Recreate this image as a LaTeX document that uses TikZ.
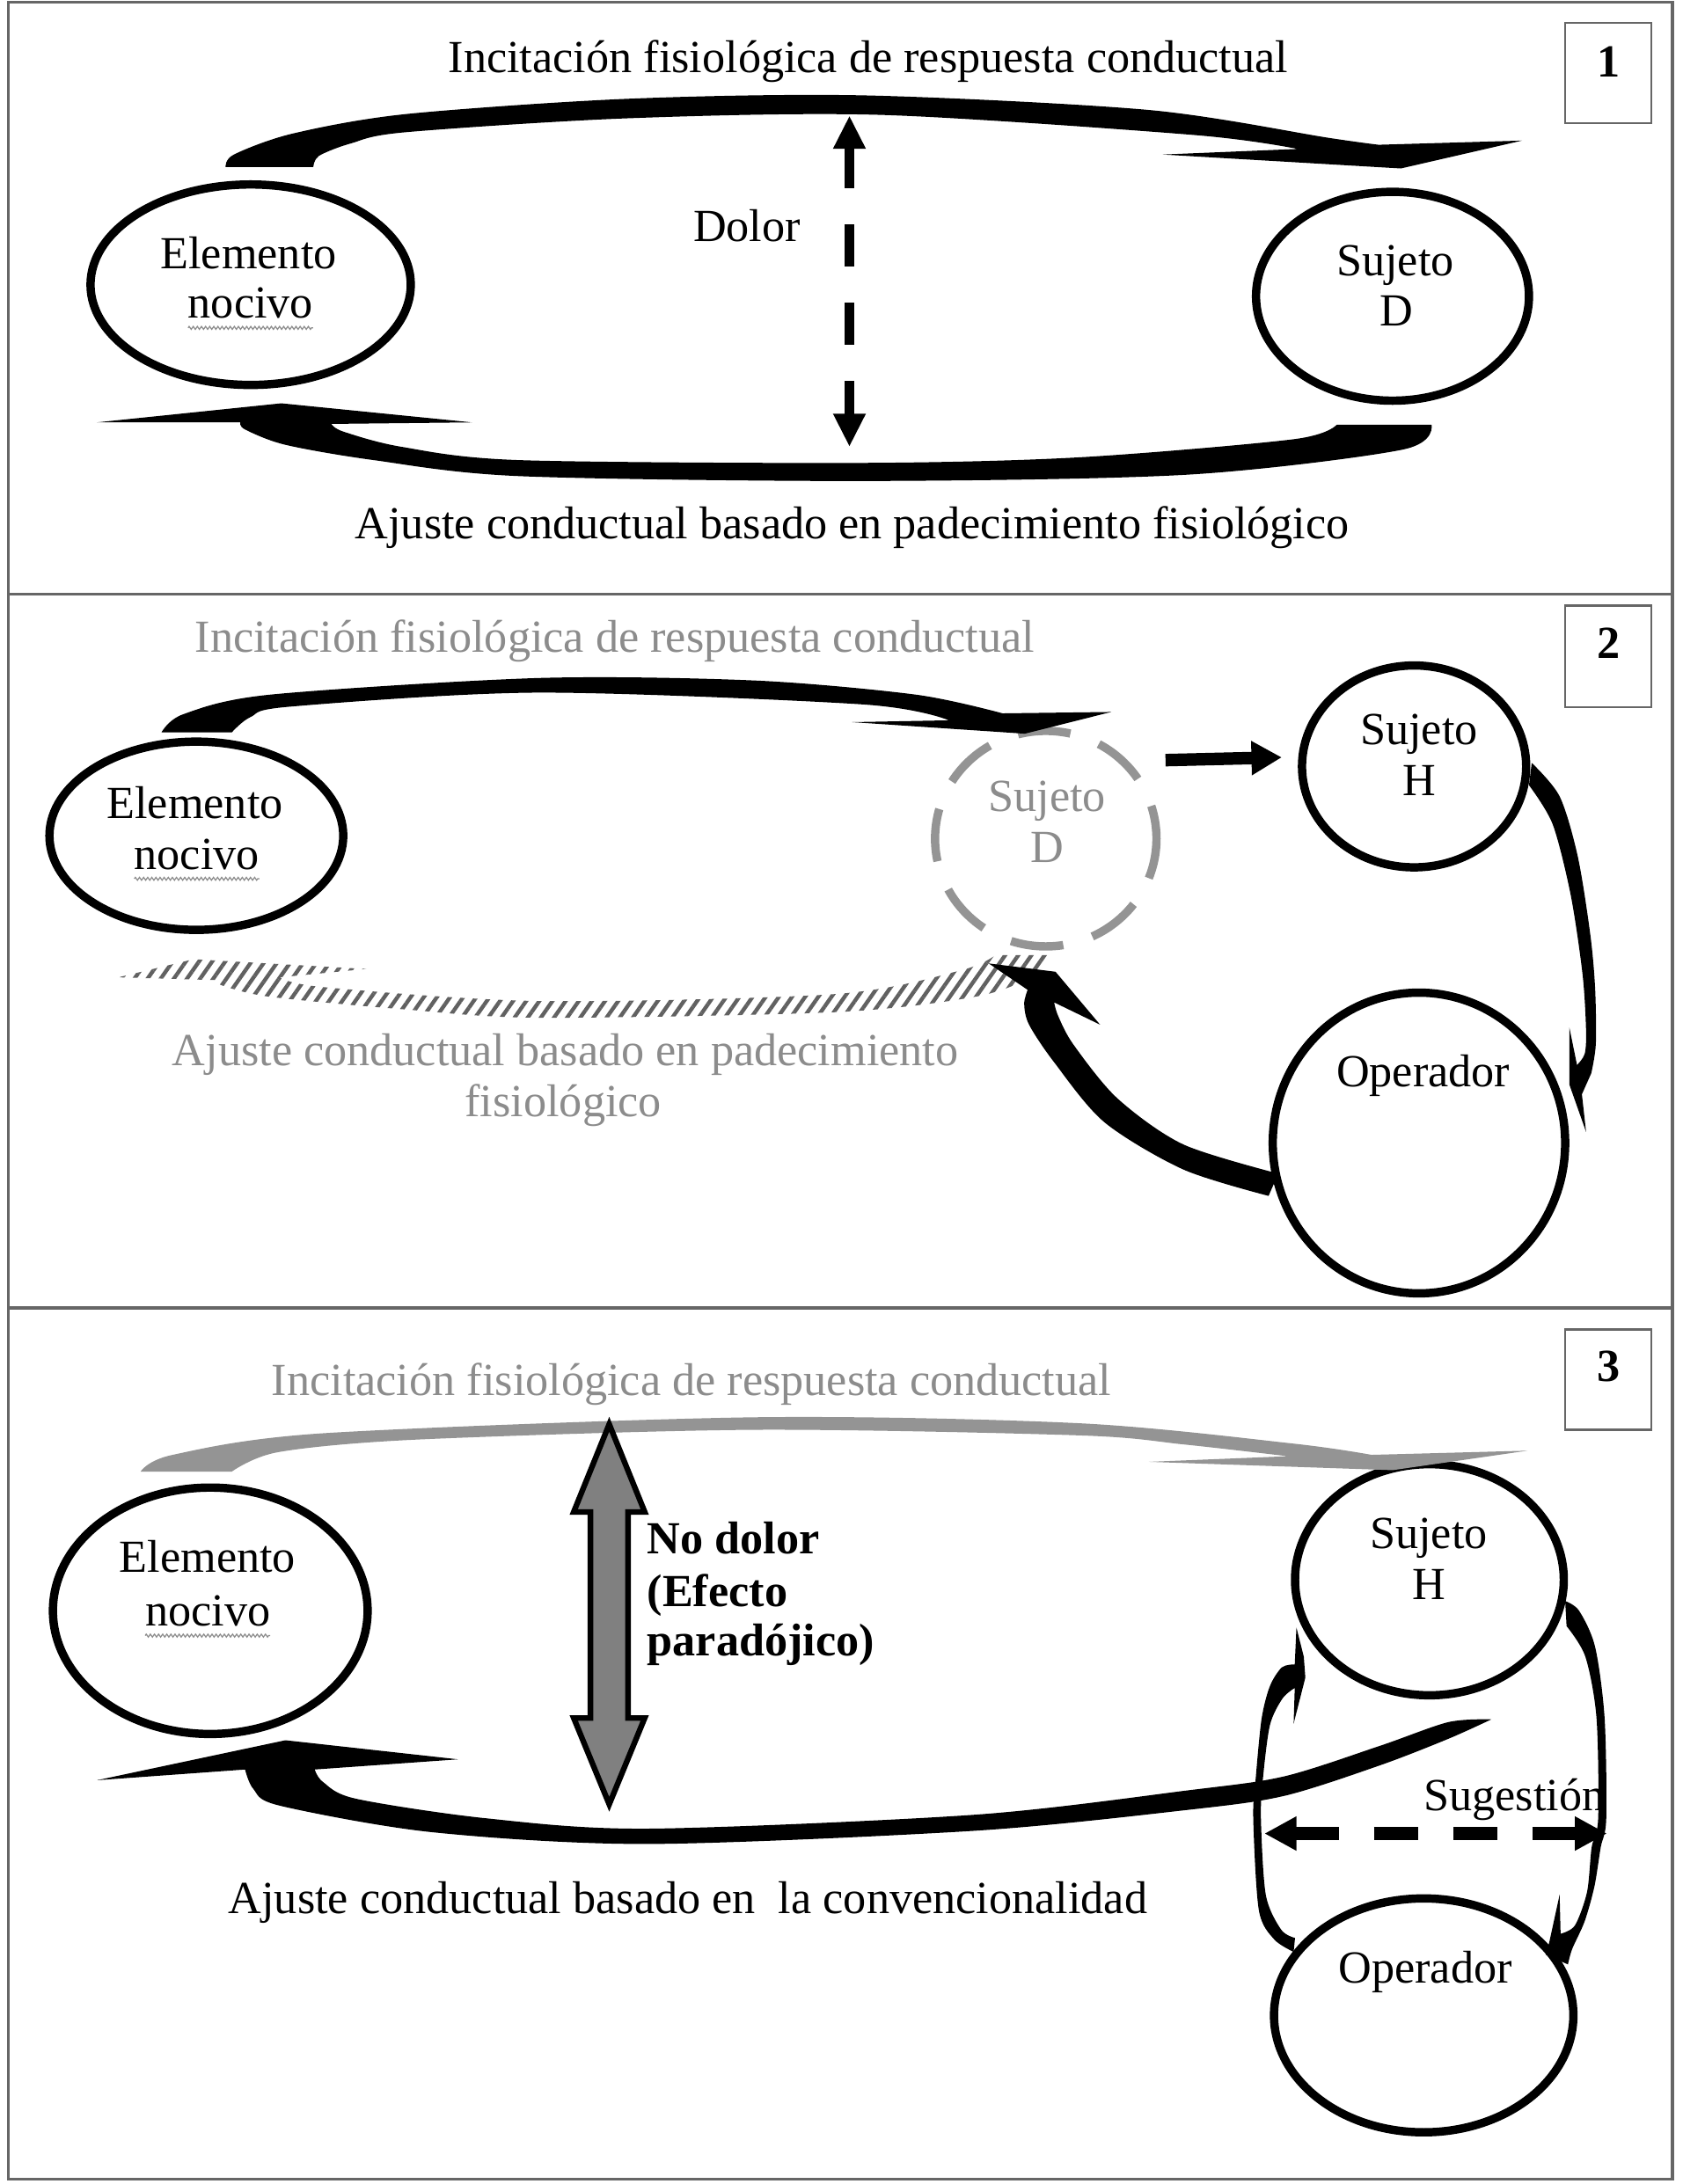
\documentclass[tikz,border=0pt]{standalone}
\usepackage{fontspec}
\setmainfont{Liberation Serif}
\usetikzlibrary{shapes.geometric,arrows.meta,patterns.meta,decorations.pathmorphing}
\definecolor{framec}{gray}{0.4}
\definecolor{grayt}{gray}{0.55}
\definecolor{graya}{gray}{0.58}
\definecolor{hatchc}{gray}{0.38}
\definecolor{dblfill}{gray}{0.5}
\newcommand\fsz{\fontsize{46.95pt}{52pt}\selectfont}
\begin{document}
\begin{tikzpicture}[x=0.05cm,y=-0.05cm,
  txt/.style={inner sep=0pt, outer sep=0pt, anchor=base, font=\fsz},
  ell/.style 2 args={draw, line width=8.5pt, ellipse, inner sep=0pt, minimum width=#1*0.1cm, minimum height=#2*0.1cm},
  numbox/.style={draw=framec, line width=2.2pt, inner sep=0pt, minimum width=3.1cm, minimum height=3.6cm},
  wavy/.style={draw=black!45, line width=1.1pt, decorate, decoration={zigzag, amplitude=1.5pt, segment length=4.2pt}},
  dashln/.style={line width=12.8pt, dash pattern=on 42.7pt off 37pt},
]
\useasboundingbox (0,0) rectangle (1208,1568.75);
\fill[white] (0,0) rectangle (1208,1568.75);
% frame
\draw[framec, line width=2.8pt] (6,1.5) rectangle (1201,1565);
\draw[framec, line width=2.8pt] (6,427) -- (1201,427);
\draw[framec, line width=2.8pt] (6,939.5) -- (1201,939.5);

% ================= PANEL 1 =================
\node[numbox] (b1) at (1155,52.5) {};
\node[txt, font={\fsz\bfseries}] (b1t) at (1155,55) {1};
\node[txt] (t1a) at (623.5,52.3) {Incitación fisiológica de respuesta conductual};
\node[txt] (t1b) at (612,387) {Ajuste conductual basado en padecimiento fisiológico};
\node[txt] (t1c) at (536.4,173.6) {Dolor};

\node[ell={115}{72}] (en1) at (180,204.5) {};
\node[txt] (en1a) at (178.5,192.9) {Elemento};
\node[txt] (en1b) at (180,228.7) {nocivo};
\draw[wavy] ([yshift=-9.7pt]en1b.base west) -- ([yshift=-9.7pt]en1b.base east);

\node[ell={98}{75}] (sd1) at (1000,212.8) {};
\node[txt] (sd1a) at (1002,197.8) {Sujeto};
\node[txt] (sd1b) at (1003,234.2) {D};

% top arc arrow
\fill plot[smooth] coordinates {(162,120) (168,111) (210,96) (291,82) (450,71) (620,68.5) (825,79) (954,99) (990,104)}
  -- (1093,101) -- (1006,121) -- (835,111) -- (932,107)
  -- plot[smooth] coordinates {(932,107) (858,97) (632,82.5) (450,85) (291,95) (252,103) (229,112) (225,120)} -- cycle;
% bottom arc arrow
\fill plot[smooth] coordinates {(1028,305) (1007,323) (852,341) (620,345.5) (373,342) (268.5,330.5) (205,319.5) (176,308.5) (172.6,303.4)}
  -- (69.5,303.4) -- (202,289.7) -- (339,303.4) -- (238,304.5)
  -- plot[smooth] coordinates {(238,304.5) (246.5,310) (288.6,321) (373,330.5) (620,332.5) (775,328.5) (929,315.5) (960,305)} -- cycle;
% Dolor dashed double arrow
\coordinate (d1t) at (610,83);
\coordinate (d1b) at (610,321);
\draw[dashln, line width=9.5pt, {Triangle[length=34pt,width=31pt]}-{Triangle[length=34pt,width=31pt]}] (d1t) -- (d1b);

% ================= PANEL 2 =================
\node[numbox, minimum height=3.65cm] (b2) at (1155,471.5) {};
\node[txt, font={\fsz\bfseries}] (b2t) at (1155,473) {2};
\node[txt, text=grayt] (t2a) at (441.5,468.2) {Incitación fisiológica de respuesta conductual};
\node[txt, text=grayt] (t2b) at (406,765.6) {Ajuste conductual basado en padecimiento};
\node[txt, text=grayt] (t2c) at (404.5,802.1) {fisiológico};

\node[ell={105.5}{67.6}] (en2) at (141,600.3) {};
\node[txt] (en2a) at (140,587.9) {Elemento};
\node[txt] (en2b) at (141.4,624.4) {nocivo};
\draw[wavy] ([yshift=-9.7pt]en2b.base west) -- ([yshift=-9.7pt]en2b.base east);

\node[ell={79.5}{77.4}, draw=graya, dash pattern=on 54pt off 31pt, dash phase=20pt] (sd2) at (751,602.4) {};
\node[txt, text=grayt] (sd2a) at (752,582.9) {Sujeto};
\node[txt, text=grayt] (sd2b) at (752,619.4) {D};

\node[ell={80.5}{72.5}] (sh2) at (1015.5,550.5) {};
\node[txt] (sh2a) at (1019,534.7) {Sujeto};
\node[txt] (sh2b) at (1019,571.2) {H};

\node[ell={105}{108}] (op2) at (1019,821) {};
\node[txt] (op2a) at (1022,780.5) {Operador};

% top arrow panel 2
\fill plot[smooth] coordinates {(116,526) (131.7,513) (193.6,499) (387,487) (542,488.8) (658,499) (720,512.4)}
  -- (798,511.4) -- (736,527) -- (612,518.7) -- (681.6,517.4)
  -- plot[smooth] coordinates {(681.6,517.4) (620,506) (387,497.5) (209,507.5) (180,515) (166.5,526)} -- cycle;
% hatched bottom arrow panel 2
\path[pattern={Lines[angle=55,distance=11pt,line width=4pt]}, pattern color=hatchc]
  plot[smooth] coordinates {(757,686) (740,702) (700,716) (600,727) (387,731) (290,725) (194,716) (160,708) (155,704)}
  -- (85,702) -- (139,689) -- (263,696) -- (201,702)
  -- plot[smooth] coordinates {(201,702) (232,709) (387,719) (600,714) (690,697) (715,686)} -- cycle;
% Operador -> Sujeto D
\fill plot[smooth] coordinates {(918,843) (849.7,822) (802.5,789) (771,750.5) (760,730) (757,720)}
  -- (790,736) -- (758,698) -- (710,692) -- (738,711)
  -- plot[smooth] coordinates {(738,711) (735.5,721) (739,736) (757,763) (793,806) (849.7,840) (911,859)} -- cycle;
% Sujeto H -> Operador
\fill plot[smooth] coordinates {(1100,548) (1120,572) (1133,615) (1142,671) (1145.5,710) (1146,750) (1142.7,771)}
  -- (1136,786) -- (1139,813) -- (1127,779) -- (1127,738) -- (1132.5,765)
  -- plot[smooth] coordinates {(1132.5,765) (1138,757) (1139,740) (1136.5,700) (1128,643) (1115,592) (1098,564)} -- cycle;
% Sujeto D -> Sujeto H
\coordinate (dh1) at (837,546);
\coordinate (dh2) at (920.5,544);
\draw[line width=12.8pt, -{Triangle[length=31pt,width=33pt]}] (dh1) -- (dh2);

% ================= PANEL 3 =================
\node[numbox, minimum height=3.6cm] (b3) at (1155,991) {};
\node[txt, font={\fsz\bfseries}] (b3t) at (1155,992.3) {3};
\node[txt, text=grayt] (t3a) at (496.6,1002.4) {Incitación fisiológica de respuesta conductual};
\node[txt] (t3b) at (494,1374.2) {Ajuste conductual basado en\ \ la convencionalidad};
\node[txt, anchor=base west, font={\fsz\bfseries}] (t3c) at (464.8,1116.2) {No dolor};
\node[txt, anchor=base west, font={\fsz\bfseries}] (t3d) at (464.8,1154) {(Efecto};
\node[txt, anchor=base west, font={\fsz\bfseries}] (t3e) at (464.8,1189.3) {paradójico)};
\node[txt] (t3f) at (1087.5,1300.7) {Sugestión};

\node[ell={113}{88.5}] (en3) at (151,1157) {};
\node[txt] (en3a) at (149,1129.6) {Elemento};
\node[txt] (en3b) at (149.2,1167.8) {nocivo};
\draw[wavy] ([yshift=-10pt]en3b.base west) -- ([yshift=-10pt]en3b.base east);

\node[ell={96.5}{83}] (sh3) at (1026.5,1134.7) {};
\node[txt] (sh3a) at (1026,1112) {Sujeto};
\node[txt] (sh3b) at (1026,1148.7) {H};

\node[ell={107.5}{84}] (op3) at (1022.4,1447.6) {};
\node[txt] (op3a) at (1023.6,1424.5) {Operador};

% gray top arrow
\fill[graya] plot[smooth] coordinates {(101,1057) (124,1045) (232,1029.5) (542,1018) (775,1022.3) (929.5,1037) (985,1045)}
  -- (1097,1042) -- (1000,1056) -- (825,1050) -- (925,1046)
  -- plot[smooth] coordinates {(925,1046) (850,1037.5) (775,1031) (542,1027) (300,1034) (200,1043) (166.5,1057)} -- cycle;
% black bottom arrow
\fill plot[smooth] coordinates {(1071,1235) (1040,1237) (991,1254) (922,1276) (853,1286) (700,1303.5) (465,1313.5) (348.6,1306) (255.6,1292) (232,1280) (226,1271)}
  -- (329,1263.7) -- (205,1250) -- (69.7,1278.7) -- (176,1271)
  -- plot[smooth] coordinates {(176,1271) (182,1285) (201,1297) (310,1316) (465,1324.5) (700,1315) (853,1300) (922,1290) (991,1268) (1040,1249) (1071,1235)} -- cycle;
% gray double arrow
\filldraw[fill=dblfill, draw=black, line width=5.7pt, line join=miter]
  (437.5,1023) -- (463,1086) -- (451,1086) -- (451,1234) -- (463,1234) -- (437.5,1296)
  -- (412,1234) -- (424,1234) -- (424,1086) -- (412,1086) -- cycle;
% left loop Operador -> Sujeto H
\fill plot[smooth] coordinates {(929,1402) (915,1393) (904,1372) (900,1306) (901.8,1277) (906,1234.5) (912,1211) (920.6,1197.6) (929.8,1195.5)}
  -- (931,1169) -- (936.3,1190) -- (937.4,1205) -- (929,1238) -- (929.8,1212.4)
  -- plot[smooth] coordinates {(929.8,1212.4) (921,1220) (912,1239) (907,1277) (905.5,1306) (909,1361) (920,1386) (930,1392)} -- cycle;
% right loop Sujeto H -> Operador
\fill plot[smooth] coordinates {(1124,1150) (1134,1157) (1145.5,1183) (1152.3,1234) (1153.5,1306) (1149.5,1327) (1145,1355) (1138,1380) (1129,1400) (1126,1411)}
  -- (1110,1404) -- (1112.6,1395) -- (1120,1361) -- (1120.7,1389)
  -- plot[smooth] coordinates {(1120.7,1389) (1131,1383) (1139.7,1359) (1143,1327) (1147.7,1306) (1146.5,1234) (1138.5,1190) (1125,1168)} -- cycle;
% Sugestion dashed double arrow
\coordinate (sg1) at (908,1317);
\coordinate (sg2) at (1154,1317);
\draw[line width=12.8pt, dash pattern=on 45.5pt off 35.6pt, {Triangle[length=32.7pt,width=32.7pt]}-{Triangle[length=32.7pt,width=32.7pt]}] (sg1) -- (sg2);
\end{tikzpicture}
\end{document}
